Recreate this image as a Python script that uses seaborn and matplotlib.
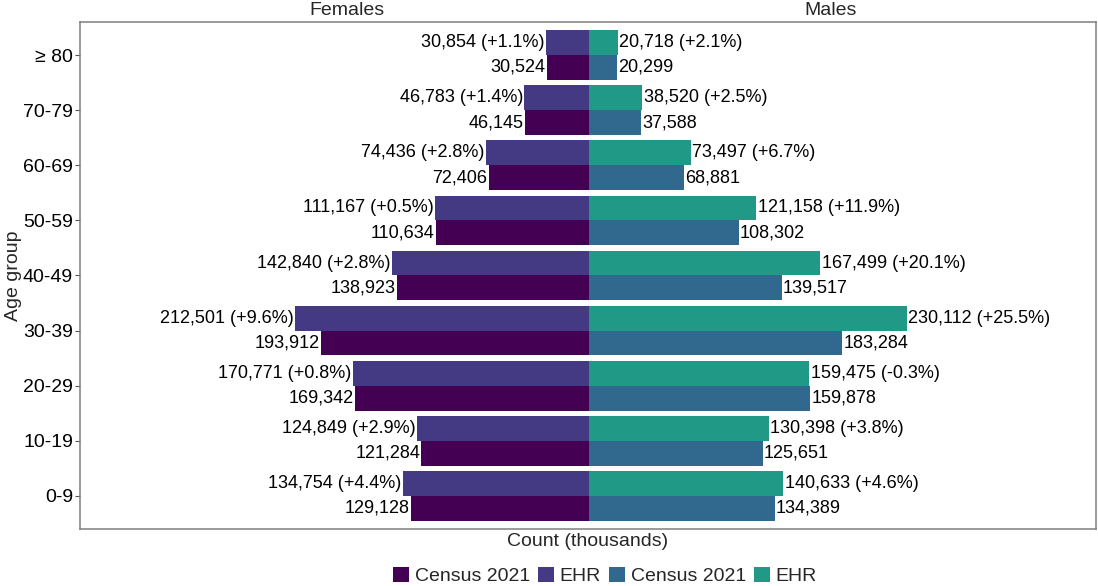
import numpy as np
import pandas as pd
import matplotlib
matplotlib.use("Agg")
import matplotlib.pyplot as plt
import seaborn as sns
from matplotlib.patches import Patch

age_groups = ["≥ 80", "70-79", "60-69", "50-59", "40-49", "30-39", "20-29", "10-19", "0-9"]
female_census = [30524, 46145, 72406, 110634, 138923, 193912, 169342, 121284, 129128]
female_ehr = [30854, 46783, 74436, 111167, 142840, 212501, 170771, 124849, 134754]
female_pct = ["+1.1%", "+1.4%", "+2.8%", "+0.5%", "+2.8%", "+9.6%", "+0.8%", "+2.9%", "+4.4%"]
male_census = [20299, 37588, 68881, 108302, 139517, 183284, 159878, 125651, 134389]
male_ehr = [20718, 38520, 73497, 121158, 167499, 230112, 159475, 130398, 140633]
male_pct = ["+2.1%", "+2.5%", "+6.7%", "+11.9%", "+20.1%", "+25.5%", "-0.3%", "+3.8%", "+4.6%"]
sources = ["EHR", "Census 2021"]

col_f_census = "#440154"
col_f_ehr = "#443A83"
col_m_census = "#31688E"
col_m_ehr = "#209A87"

sns.set_theme(style="white")
plt.rcParams["font.family"] = ["Liberation Sans", "DejaVu Sans"]

fem = pd.DataFrame({
    "age": age_groups * 2,
    "source": ["EHR"] * len(age_groups) + ["Census 2021"] * len(age_groups),
    "value": [-v for v in female_ehr] + [-v for v in female_census],
})
mal = pd.DataFrame({
    "age": age_groups * 2,
    "source": ["EHR"] * len(age_groups) + ["Census 2021"] * len(age_groups),
    "value": male_ehr + male_census,
})

W, H = 1098, 586
L, R, T, B = 80, 1095.5, 22, 529
fig = plt.figure(figsize=(W / 100, H / 100), dpi=100)
ax = fig.add_axes([L / W, 1 - B / H, (R - L) / W, (B - T) / H])

sns.barplot(data=fem, x="value", y="age", hue="source", hue_order=sources, order=age_groups,
            palette={"EHR": col_f_ehr, "Census 2021": col_f_census}, orient="h",
            width=0.9, dodge=True, saturation=1, errorbar=None, legend=False, ax=ax, linewidth=0)
sns.barplot(data=mal, x="value", y="age", hue="source", hue_order=sources, order=age_groups,
            palette={"EHR": col_m_ehr, "Census 2021": col_m_census}, orient="h",
            width=0.9, dodge=True, saturation=1, errorbar=None, legend=False, ax=ax, linewidth=0)

f_ehr_c, f_cen_c, m_ehr_c, m_cen_c = ax.containers[:4]
fs_lab = 13
ax.bar_label(f_ehr_c, labels=[f"{v:,} ({p})" for v, p in zip(female_ehr, female_pct)],
             padding=1, fontsize=fs_lab, color="black")
ax.bar_label(f_cen_c, labels=[f"{v:,}" for v in female_census], padding=1, fontsize=fs_lab, color="black")
ax.bar_label(m_ehr_c, labels=[f"{v:,} ({p})" for v, p in zip(male_ehr, male_pct)],
             padding=1, fontsize=fs_lab, color="black")
ax.bar_label(m_cen_c, labels=[f"{v:,}" for v in male_census], padding=1, fontsize=fs_lab, color="black")

scale = 724.0
center = 589
ax.set_xlim(-(center - L) * scale, (R - center) * scale)
ax.set_ylim(len(age_groups) - 1 + 0.6, -0.6)
ax.set_xticks([])
ax.tick_params(axis="y", labelsize=14, length=3.5, width=0.8, color="#555555", left=True, pad=1.5,
               labelcolor="black")
ax.set_ylabel("Age group", fontsize=14)
ax.yaxis.set_label_coords(-0.057, 0.5)
ax.set_xlabel("Count (thousands)", fontsize=14, labelpad=3)
for s in ax.spines.values():
    s.set_color("#7f7f7f")
    s.set_linewidth(1.1)

ax.annotate("Females", xy=(-175000, 1.0), xycoords=ax.get_xaxis_transform(), xytext=(0, 2.5),
            textcoords="offset points", ha="center", va="bottom", fontsize=14)
ax.annotate("Males", xy=(175000, 1.0), xycoords=ax.get_xaxis_transform(), xytext=(0, 2.5),
            textcoords="offset points", ha="center", va="bottom", fontsize=14)

handles = [Patch(facecolor=c, edgecolor="none") for c in [col_f_census, col_f_ehr, col_m_census, col_m_ehr]]
labels = ["Census 2021", "EHR", "Census 2021", "EHR"]
fig.legend(handles, labels, loc="center", bbox_to_anchor=(605 / W, 1 - 576 / H), ncol=4, frameon=False,
           fontsize=14, handlelength=0.85, handleheight=0.85, handletextpad=0.28, columnspacing=0.4,
           borderpad=0, borderaxespad=0)

fig.savefig("out.png", dpi=100)
